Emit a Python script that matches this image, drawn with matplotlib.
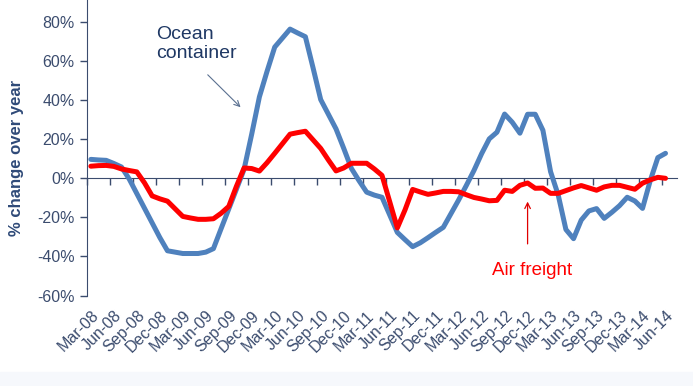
import numpy as np
import matplotlib.pyplot as plt

plt.rcParams['font.family'] = ['Liberation Sans', 'DejaVu Sans']

# 월별 카테고리 (Mar-08 ~ Jul-14), 라벨은 3개월마다
months = ['Mar', 'Apr', 'May', 'Jun', 'Jul', 'Aug', 'Sep', 'Oct', 'Nov', 'Dec', 'Jan', 'Feb']
categories = []
yr = 8
for k in range(77):
    m = months[k % 12]
    if m == 'Jan':
        yr += 1
    categories.append('%s-%02d' % (m, yr))

# 해상 컨테이너 (Mar-08 ~ Jun-14)
ocean = [9.7, 9.4, 9.2, 7.6, 5.8, -0.3, -7.8, -15.3, -22.8, -30.3,
         -37.1, -37.8, -38.5, -38.5, -38.5, -37.8, -36.0, -25.8, -15.7, -5.6,
         4.6, 22.7, 41.7, 54.8, 67.2, 71.8, 76.4, 74.4, 72.5, 56.6,
         40.3, 32.8, 25.3, 15.4, 5.1, -1.2, -7.1, -8.6, -9.7, -18.7,
         -27.7, -31.4, -35.0, -33.0, -30.4, -27.7, -25.1, -18.1, -11.1, -3.7,
         4.0, 12.6, 20.2, 23.6, 32.9, 28.7, 23.1, 32.8, 32.8, 24.6,
         3.4, -8.6, -26.2, -30.9, -21.4, -16.7, -15.5, -20.5, -17.4, -14.0,
         -9.7, -11.6, -15.4, -1.3, 10.6, 12.8]

# 항공 화물
air = [6.2, 6.5, 6.6, 6.1, 4.8, 4.0, 3.3, -2.3, -9.0, -10.5,
       -11.7, -15.6, -19.5, -20.3, -21.0, -21.0, -20.7, -17.9, -14.4, -4.1,
       5.3, 5.0, 3.7, 8.0, 12.8, 17.7, 22.6, 23.4, 24.1, 19.7,
       15.3, 9.4, 3.8, 5.3, 7.7, 7.7, 7.7, 4.8, 1.5, -11.9,
       -25.4, -16.2, -5.7, -7.0, -8.2, -7.5, -6.7, -6.7, -6.9, -8.4,
       -9.8, -10.6, -11.5, -11.3, -6.1, -6.7, -3.6, -2.4, -5.1, -5.0,
       -7.7, -7.7, -6.3, -4.9, -3.7, -4.9, -6.1, -4.4, -3.6, -3.6,
       -4.6, -5.6, -2.5, -0.8, 0.5, 0.0]

yticks = [-60, -40, -20, 0, 20, 40, 60, 80]

navy = '#3B4C6E'
fig = plt.figure(figsize=(6.93, 3.86), dpi=100)
fig.patches.append(plt.Rectangle((0, 0), 1, 14 / 386, transform=fig.transFigure,
                                 color='#F6F8FC', zorder=0))
ax = fig.add_axes([87 / 693, 90.5 / 386, 590 / 693, 295.5 / 386])
ax.patch.set_alpha(0)

x = np.arange(len(ocean))
ax.plot(x, ocean, color='#4F81BD', lw=3.6, solid_joinstyle='round', solid_capstyle='round', zorder=3)
ax.plot(x, air, color='#FF0000', lw=3.6, solid_joinstyle='round', solid_capstyle='round', zorder=4)

ax.set_xlim(-0.5, 76.5)
ax.set_ylim(-60, 91.3)

# y축
ax.set_yticks(yticks)
ax.set_yticklabels(['%d%%' % v for v in yticks], fontsize=11.5, color=navy)
ax.tick_params(axis='y', length=5, width=1, color=navy, pad=4)
ax.spines['left'].set_color(navy)
ax.spines['left'].set_bounds(-60, 91.3)
ax.spines['top'].set_visible(False)
ax.spines['right'].set_visible(False)
ax.set_ylabel('% change over year', fontsize=12, fontweight='bold', color='#2F4A78')
ax.yaxis.set_label_coords(-0.107, 0.465)

# x축: 0선 위의 눈금 (라벨은 아래쪽에)
ax.spines['bottom'].set_position(('data', 0))
ax.spines['bottom'].set_color(navy)
ax.set_xticks(np.arange(-0.5, 75, 3))
ax.tick_params(axis='x', length=5, width=1, color=navy, direction='out', labelbottom=False)

sec = ax.secondary_xaxis(0)
sec.set_xticks(np.arange(0, 76, 3))
sec.set_xticklabels(categories[0:76:3], rotation=45, ha='right', rotation_mode='anchor',
                    fontsize=11.5, color=navy)
sec.tick_params(length=0, pad=9)
sec.spines['bottom'].set_visible(False)

# 주석
ax.text(8.5, 69, 'Ocean\ncontainer', fontsize=14, color='#1F3864', va='center', ha='left',
        linespacing=1.15)
ax.annotate('', xy=(19.8, 35.4), xytext=(15.0, 54),
            arrowprops=dict(arrowstyle='->', color='#5A7090', lw=0.8))
ax.text(57.6, -47.2, 'Air freight', fontsize=13.5, color='#FF0000', va='center', ha='center')
ax.annotate('', xy=(57.0, -10.5), xytext=(57.0, -35),
            arrowprops=dict(arrowstyle='->', color='#E00000', lw=0.9))

fig.savefig('out.png', dpi=100)
